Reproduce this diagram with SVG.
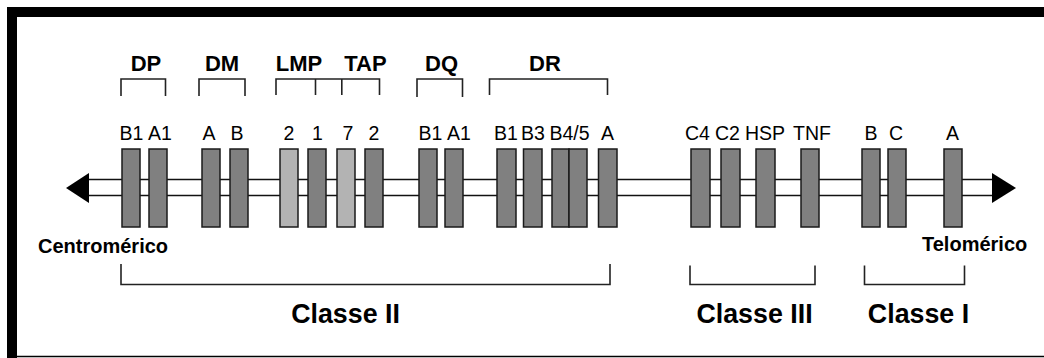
<svg xmlns="http://www.w3.org/2000/svg" width="1044" height="358" viewBox="0 0 1044 358">
<style>
.g{fill:#808080;stroke:#1a1a1a;stroke-width:1.5}
.l{fill:#b3b3b3;stroke:#1a1a1a;stroke-width:1.5}
.br{fill:none;stroke:#222;stroke-width:1.6}
.t{font-family:"Liberation Sans",Arial,sans-serif;font-size:19.5px;fill:#000;text-anchor:middle}
.h{font-family:"Liberation Sans",Arial,sans-serif;font-size:22px;font-weight:bold;fill:#000;text-anchor:middle}
.e{font-family:"Liberation Sans",Arial,sans-serif;font-size:20px;font-weight:bold;fill:#000}
.c{font-family:"Liberation Sans",Arial,sans-serif;font-size:26.8px;font-weight:bold;fill:#000;text-anchor:middle}
</style>
<rect width="1044" height="358" fill="#fff"/>
<g id="frame">
<rect x="7" y="7" width="1037" height="10" fill="#000"/>
<rect x="7" y="7" width="10" height="351" fill="#000"/>
<line x1="7" y1="356.5" x2="1044" y2="356.5" stroke="#000" stroke-width="1.5"/>
</g>
<g id="connectors">
<line x1="86" y1="179.5" x2="994" y2="179.5" stroke="#111" stroke-width="1.6"/>
<line x1="86" y1="195.5" x2="994" y2="195.5" stroke="#111" stroke-width="1.6"/>
<polygon points="66,188 89,173 89,203" fill="#000"/>
<polygon points="1016,188 992,173 992,203" fill="#000"/>
<path class="br" d="M121,96 V79 H165.5 V96"/>
<path class="br" d="M199,96 V79 H245 V96"/>
<path class="br" d="M276,95 V79 H379.5 V95 M315.5,79 V95 M341.8,79 V95"/>
<path class="br" d="M417,97 V79 H462.5 V97"/>
<path class="br" d="M489.5,95 V79 H607.5 V95"/>
<path class="br" d="M121,264 V284.5 H610 V264"/>
<path class="br" d="M690,265.5 V284.5 H815 V265.5"/>
<path class="br" d="M864.5,265.5 V284.5 H964.5 V265.5"/>
</g>
<g id="group-labels">
<text class="h" x="146" y="71">DP</text>
<text class="h" x="222" y="71">DM</text>
<text class="h" x="299" y="71">LMP</text>
<text class="h" x="365.5" y="71">TAP</text>
<text class="h" x="441.5" y="71">DQ</text>
<text class="h" x="545" y="71">DR</text>
</g>
<g id="DPB1"><rect class="g" x="122" y="149" width="18" height="78"/><text class="t" x="131.5" y="140">B1</text></g>
<g id="DPA1"><rect class="g" x="149" y="149" width="18" height="78"/><text class="t" x="160" y="140">A1</text></g>
<g id="DMA"><rect class="g" x="202" y="149" width="18" height="78"/><text class="t" x="209" y="140">A</text></g>
<g id="DMB"><rect class="g" x="230" y="149" width="18" height="78"/><text class="t" x="237" y="140">B</text></g>
<g id="LMP2"><rect class="l" x="280" y="149" width="18" height="78"/><text class="t" x="289" y="140">2</text></g>
<g id="TAP1"><rect class="g" x="308" y="149" width="18" height="78"/><text class="t" x="317.5" y="140">1</text></g>
<g id="LMP7"><rect class="l" x="337" y="149" width="18" height="78"/><text class="t" x="348" y="140">7</text></g>
<g id="TAP2"><rect class="g" x="365" y="149" width="18" height="78"/><text class="t" x="374" y="140">2</text></g>
<g id="DQB1"><rect class="g" x="419" y="149" width="18" height="78"/><text class="t" x="430.5" y="140">B1</text></g>
<g id="DQA1"><rect class="g" x="445" y="149" width="18" height="78"/><text class="t" x="459" y="140">A1</text></g>
<g id="DRB1"><rect class="g" x="497" y="149" width="19" height="78"/><text class="t" x="506" y="140">B1</text></g>
<g id="DRB3"><rect class="g" x="523.5" y="149" width="18.5" height="78"/><text class="t" x="533" y="140">B3</text></g>
<g id="DRB45"><rect class="g" x="552" y="149" width="17" height="78"/><rect class="g" x="569" y="149" width="18" height="78"/><text class="t" x="569.5" y="140">B4/5</text></g>
<g id="DRA"><rect class="g" x="598.5" y="149" width="18.5" height="78"/><text class="t" x="607.5" y="140">A</text></g>
<g id="C4"><rect class="g" x="691" y="149" width="19" height="78"/><text class="t" x="697.5" y="140">C4</text></g>
<g id="C2"><rect class="g" x="721" y="149" width="19" height="78"/><text class="t" x="727.5" y="140">C2</text></g>
<g id="HSP"><rect class="g" x="756" y="149" width="19" height="78"/><text class="t" x="765" y="140">HSP</text></g>
<g id="TNF"><rect class="g" x="801" y="149" width="18" height="78"/><text class="t" x="812" y="140">TNF</text></g>
<g id="IB"><rect class="g" x="862" y="149" width="18" height="78"/><text class="t" x="871" y="140">B</text></g>
<g id="IC"><rect class="g" x="888" y="149" width="18" height="78"/><text class="t" x="896" y="140">C</text></g>
<g id="IA"><rect class="g" x="944" y="149" width="18" height="78"/><text class="t" x="952.5" y="140">A</text></g>
<g id="ends">
<text class="e" x="38" y="252.5">Centromérico</text>
<text class="e" x="922" y="250.5">Telomérico</text>
</g>
<g id="classes">
<text class="c" x="345.5" y="323">Classe II</text>
<text class="c" x="754.5" y="323">Classe III</text>
<text class="c" x="918.5" y="323">Classe I</text>
</g>
</svg>
